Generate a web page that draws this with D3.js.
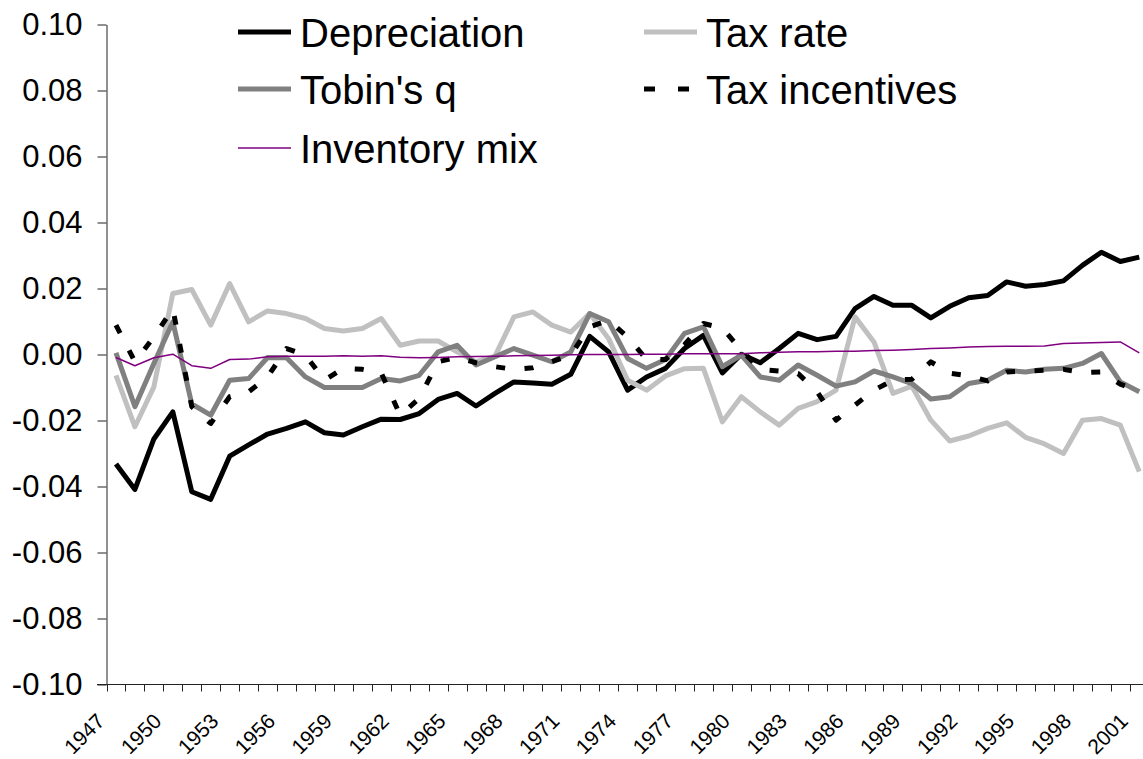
<!DOCTYPE html>
<html>
<head>
<meta charset="utf-8">
<script src="https://cdn.jsdelivr.net/npm/d3@7"></script>
<style>
  body { margin: 0; background: #fff; }
  svg { display: block; font-family: Arial, "Liberation Sans", sans-serif; }
</style>
</head>
<body>
<div id="chart"></div>
<script>
const years = d3.range(1947, 2002);
const labelYears = years.filter((d, i) => i % 3 === 0);
const yTicks = [-0.10, -0.08, -0.06, -0.04, -0.02, 0.00, 0.02, 0.04, 0.06, 0.08, 0.10];

const depreciation = [
  -0.0332, -0.0409, -0.0256, -0.0174, -0.0416, -0.0439, -0.0308, -0.0274, -0.0241, -0.0224,
  -0.0204, -0.0237, -0.0244, -0.0219, -0.0196, -0.0197, -0.0179, -0.0136, -0.0118, -0.0156,
  -0.0118, -0.0083, -0.0086, -0.0090, -0.0060, 0.0055, 0.0008, -0.0108, -0.0068, -0.0042,
  0.0018, 0.0058, -0.0056, 0.0001, -0.0025, 0.0018, 0.0064, 0.0045, 0.0055, 0.0139,
  0.0176, 0.0149, 0.0149, 0.0111, 0.0146, 0.0172, 0.0179, 0.0220, 0.0207, 0.0212,
  0.0223, 0.0270, 0.0310, 0.0282, 0.0295
];
const taxRate = [
  -0.0063, -0.0219, -0.0098, 0.0185, 0.0197, 0.0089, 0.0215, 0.0099, 0.0132, 0.0124,
  0.0109, 0.0079, 0.0071, 0.0079, 0.0109, 0.0028, 0.0041, 0.0041, 0.0008, -0.0022,
  -0.0005, 0.0114, 0.0129, 0.0089, 0.0068, 0.0124, 0.0048, -0.0078, -0.0108, -0.0065,
  -0.0043, -0.0042, -0.0204, -0.0128, -0.0174, -0.0214, -0.0163, -0.0143, -0.0108, 0.0114,
  0.0038, -0.0118, -0.0096, -0.0199, -0.0262, -0.0247, -0.0224, -0.0207, -0.0251, -0.0271,
  -0.0300, -0.0199, -0.0194, -0.0214, -0.0355
];
const tobinsQ = [
  0.0005, -0.0158, -0.0027, 0.0099, -0.0150, -0.0184, -0.0078, -0.0073, -0.0009, -0.0010,
  -0.0068, -0.0100, -0.0100, -0.0100, -0.0073, -0.0080, -0.0063, 0.0008, 0.0028, -0.0032,
  -0.0007, 0.0018, -0.0002, -0.0022, 0.0008, 0.0124, 0.0099, -0.0012, -0.0042, -0.0015,
  0.0064, 0.0084, -0.0037, -0.0002, -0.0068, -0.0078, -0.0032, -0.0063, -0.0096, -0.0083,
  -0.0050, -0.0068, -0.0088, -0.0135, -0.0128, -0.0088, -0.0078, -0.0048, -0.0053, -0.0045,
  -0.0042, -0.0027, 0.0003, -0.0083, -0.0113
];
const taxIncentives = [
  0.0089, -0.0022, 0.0053, 0.0139, -0.0158, -0.0209, -0.0128, -0.0113, -0.0068, 0.0018,
  -0.0002, -0.0078, -0.0042, -0.0045, -0.0056, -0.0184, -0.0133, -0.0022, -0.0009, -0.0025,
  -0.0037, -0.0045, -0.0040, -0.0022, -0.0002, 0.0084, 0.0104, 0.0053, -0.0015, -0.0015,
  0.0030, 0.0094, 0.0080, 0.0013, -0.0045, -0.0050, -0.0058, -0.0113, -0.0199, -0.0153,
  -0.0108, -0.0078, -0.0075, -0.0022, -0.0057, -0.0065, -0.0080, -0.0053, -0.0050, -0.0048,
  -0.0045, -0.0055, -0.0053, -0.0090, -0.0110
];
const inventoryMix = [
  -0.0009, -0.0034, -0.0010, 0.0001, -0.0034, -0.0042, -0.0015, -0.0014, -0.0007, -0.0005,
  -0.0005, -0.0005, -0.0004, -0.0005, -0.0004, -0.0008, -0.0010, -0.0009, -0.0007, -0.0006,
  -0.0005, -0.0004, -0.0003, -0.0002, -0.0001, 0.0000, 0.0000, 0.0000, 0.0001, 0.0001,
  0.0002, 0.0002, 0.0002, 0.0002, 0.0005, 0.0007, 0.0008, 0.0008, 0.0010, 0.0010,
  0.0012, 0.0013, 0.0015, 0.0018, 0.0020, 0.0023, 0.0024, 0.0025, 0.0025, 0.0026,
  0.0033, 0.0035, 0.0036, 0.0038, 0.0005
];

const width = 1143;
const height = 759;

const svg = d3.select('#chart')
  .append('svg')
  .attr('width', width)
  .attr('height', height);

const xScale = d3.scaleBand()
  .domain(years)
  .range([106.5, 106.5 + years.length * 18.95])
  .padding(0);

const yScale = d3.scaleLinear()
  .domain([-0.1, 0.1])
  .range([684.5, 24.5]);

// series, in Excel's drawing order
const series = [
  { name: 'Depreciation', values: depreciation, color: '#000', width: 5 },
  { name: 'Tax rate', values: taxRate, color: '#c0c0c0', width: 5 },
  { name: "Tobin's q", values: tobinsQ, color: '#808080', width: 5 },
  { name: 'Tax incentives', values: taxIncentives, color: '#000', width: 5, dash: '9,19.5' },
  { name: 'Inventory mix', values: inventoryMix, color: '#800080', width: 1.5 },
];

// y axis
const yAxis = svg.append('g')
  .attr('transform', 'translate(106.5,0)')
  .call(d3.axisLeft(yScale)
    .tickValues(yTicks)
    .tickFormat((d) => d.toFixed(2))
    .tickSize(9)
    .tickSizeOuter(0)
    .tickPadding(15));
yAxis.selectAll('text')
  .style('font-size', '31px')
  .attr('fill', '#000');
yAxis.selectAll('line, path').attr('stroke', '#222');

// x axis: labels every 3rd year, ticks between categories
const xAxis = svg.append('g')
  .attr('transform', `translate(0,${yScale(-0.1)})`);
xAxis.append('line')
  .attr('x1', 97).attr('x2', width)
  .attr('y1', 0).attr('y2', 0)
  .attr('stroke', '#222');
xAxis.selectAll('.xtick')
  .data(years)
  .enter()
  .append('line')
  .attr('class', 'xtick')
  .attr('x1', (d) => Math.round(xScale(d)) + 0.5)
  .attr('x2', (d) => Math.round(xScale(d)) + 0.5)
  .attr('y1', 0).attr('y2', 7)
  .attr('stroke', '#222');
xAxis.selectAll('.xlabel')
  .data(labelYears)
  .enter()
  .append('text')
  .attr('class', 'xlabel')
  .attr('transform', (d) => `translate(${xScale(d) + xScale.bandwidth() / 2 - 10},38) rotate(-45)`)
  .attr('text-anchor', 'end')
  .style('font-size', '21px')
  .text((d) => d);

// lines
const line = d3.line()
  .x((d, i) => xScale(years[i]) + xScale.bandwidth() / 2)
  .y((d) => yScale(d));

svg.selectAll('.series')
  .data(series)
  .enter()
  .append('path')
  .attr('class', 'series')
  .attr('d', (d) => line(d.values))
  .attr('fill', 'none')
  .attr('stroke', (d) => d.color)
  .attr('stroke-width', (d) => d.width)
  .attr('stroke-linejoin', 'round')
  .attr('stroke-dasharray', (d) => d.dash || null);

// legend (two columns, row-major like Excel)
const legendPos = [
  { x: 238, y: 32 }, { x: 644, y: 32 },
  { x: 238, y: 89 }, { x: 644, y: 89 },
  { x: 238, y: 148 },
];
const legend = svg.selectAll('.legend')
  .data(series)
  .enter()
  .append('g')
  .attr('class', 'legend')
  .attr('transform', (d, i) => `translate(${legendPos[i].x},${legendPos[i].y})`);
legend.append('line')
  .attr('x1', 0).attr('x2', 53)
  .attr('y1', 0).attr('y2', 0)
  .attr('stroke', (d) => d.color)
  .attr('stroke-width', (d) => d.width)
  .attr('stroke-dasharray', (d) => (d.dash ? '11,23' : null));
legend.append('text')
  .attr('x', 62)
  .attr('y', 15)
  .style('font-size', '40px')
  .text((d) => d.name);
</script>
</body>
</html>
